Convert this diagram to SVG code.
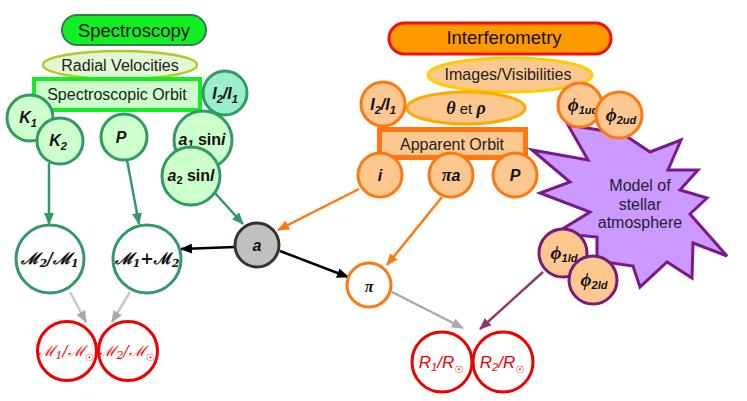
<svg xmlns="http://www.w3.org/2000/svg" width="747" height="401" viewBox="0 0 747 401">
<defs>
<style>
text{font-family:"Liberation Sans",Arial,sans-serif;text-anchor:middle;}
.gn{fill:#ccffcc;stroke:#339966;stroke-width:3;}
.wn{fill:#ffffff;stroke:#339966;stroke-width:3;}
.on{fill:#fcc890;stroke:#ff7711;stroke-width:3;}
.pn{fill:#fcc890;stroke:#7a1a7a;stroke-width:3;}
.rn{fill:#ffffff;stroke:#ee0000;stroke-width:3;}
.bi{font-weight:bold;font-style:italic;font-size:16px;fill:#111;}
.sy{font-family:"Liberation Serif","DejaVu Serif",serif;}
.sc{font-family:"DejaVu Serif",serif;font-style:italic;}
.lbl{font-size:16px;fill:#222;}
.sub{font-size:11px;}
.c{fill:none;stroke-width:2.5;}
</style>
<marker id="mg" markerUnits="userSpaceOnUse" markerWidth="12" markerHeight="10" refX="11" refY="5" orient="auto"><path d="M0,0 L12,5 L0,10 z" fill="#339966"/></marker>
<marker id="mk" markerUnits="userSpaceOnUse" markerWidth="12" markerHeight="10" refX="11" refY="5" orient="auto"><path d="M0,0 L12,5 L0,10 z" fill="#000"/></marker>
<marker id="mo" markerUnits="userSpaceOnUse" markerWidth="12" markerHeight="10" refX="11" refY="5" orient="auto"><path d="M0,0 L12,5 L0,10 z" fill="#ff7711"/></marker>
<marker id="ma" markerUnits="userSpaceOnUse" markerWidth="12" markerHeight="10" refX="11" refY="5" orient="auto"><path d="M0,0 L12,5 L0,10 z" fill="#aaaaaa"/></marker>
<marker id="mp" markerUnits="userSpaceOnUse" markerWidth="12" markerHeight="10" refX="11" refY="5" orient="auto"><path d="M0,0 L12,5 L0,10 z" fill="#8b3a6b"/></marker>
</defs>
<rect width="747" height="401" fill="#fff"/>

<g id="connectors">
<line class="c" x1="49" y1="163" x2="49" y2="224" stroke="#339966" marker-end="url(#mg)"/>
<line class="c" x1="127" y1="160" x2="139" y2="224" stroke="#339966" marker-end="url(#mg)"/>
<line class="c" x1="215" y1="193" x2="243" y2="224" stroke="#339966" marker-end="url(#mg)"/>
<line class="c" x1="235" y1="247" x2="181" y2="249" stroke="#000" marker-end="url(#mk)"/>
<line class="c" x1="280" y1="251" x2="348" y2="277" stroke="#000" marker-end="url(#mk)"/>
<line class="c" x1="359" y1="189" x2="278" y2="230" stroke="#ff7711" marker-end="url(#mo)"/>
<line class="c" x1="442" y1="197" x2="387" y2="265" stroke="#ff7711" marker-end="url(#mo)"/>
<line class="c" x1="392" y1="292" x2="463" y2="328" stroke="#aaaaaa" marker-end="url(#ma)"/>
<line class="c" x1="543" y1="272" x2="480" y2="329" stroke="#8b3a6b" marker-end="url(#mp)"/>
<line class="c" x1="70" y1="292" x2="86" y2="322" stroke="#c8c8c8" marker-end="url(#ma)"/>
<line class="c" x1="130" y1="292" x2="112" y2="322" stroke="#c8c8c8" marker-end="url(#ma)"/>
</g>

<g id="spectroscopy">
<rect x="62" y="15" width="144" height="30" rx="15" fill="#11ee22" stroke="#3a7a50" stroke-width="2"/>
<text x="134" y="37" font-size="18.5" fill="#111">Spectroscopy</text>
</g>
<g id="radial-velocities">
<ellipse cx="120" cy="65" rx="77" ry="14" fill="#e2f7d4" stroke="#b5c82a" stroke-width="2.5"/>
<text class="lbl" x="120" y="71">Radial Velocities</text>
</g>
<g id="spectroscopic-orbit">
<rect x="34" y="79" width="166" height="31" fill="#ccffcc" stroke="#11ee22" stroke-width="4"/>
<text class="lbl" x="117" y="100">Spectroscopic Orbit</text>
</g>
<g id="g-I2I1">
<circle cx="225" cy="93" r="22" fill="#99eecc" stroke="#339966" stroke-width="3"/>
<text class="bi" x="225" y="99" font-size="17">I<tspan class="sub" dy="4">2</tspan><tspan dy="-4">/I</tspan><tspan class="sub" dy="4">1</tspan></text>
</g>
<g id="K1">
<circle class="gn" cx="30" cy="118" r="23"/>
<text class="bi" x="28" y="123">K<tspan class="sub" dy="4">1</tspan></text>
</g>
<g id="K2">
<circle class="gn" cx="60" cy="141" r="23"/>
<text class="bi" x="58" y="146">K<tspan class="sub" dy="4">2</tspan></text>
</g>
<g id="g-P">
<circle class="gn" cx="124" cy="137" r="23"/>
<text class="bi" x="121" y="143">P</text>
</g>
<g id="a1sini">
<circle class="gn" cx="203" cy="140" r="29"/>
<text class="bi" x="202" y="145" font-size="14">a<tspan class="sub" dy="3">1</tspan><tspan dy="-3" font-style="normal"> sin</tspan>i</text>
</g>
<g id="a2sinl">
<circle class="gn" cx="191" cy="176" r="29"/>
<text class="bi" x="191" y="181" font-size="14">a<tspan class="sub" dy="3" font-style="normal">2</tspan><tspan dy="-3" font-style="normal"> sin</tspan>l</text>
</g>
<g id="M2M1">
<circle class="wn" cx="50" cy="259" r="34"/>
<text class="bi sc" x="50" y="264" font-size="14">ℳ<tspan class="sub" dy="3">2</tspan><tspan dy="-3">/ℳ</tspan><tspan class="sub" dy="3">1</tspan></text>
</g>
<g id="M1plusM2">
<circle class="wn" cx="147" cy="259" r="34"/>
<text class="bi sc" x="147" y="264" font-size="14">ℳ<tspan class="sub" dy="3">1</tspan><tspan dy="-3" font-style="normal">+ℳ</tspan><tspan class="sub" dy="3">2</tspan></text>
</g>
<g id="a-node">
<circle cx="257" cy="245" r="22" fill="#c0c0c0" stroke="#333" stroke-width="3"/>
<text class="bi" x="257" y="251">a</text>
</g>
<g id="pi-node">
<circle cx="369" cy="285" r="22" fill="#fff" stroke="#ff7711" stroke-width="3"/>
<text class="bi sy" x="369" y="292" font-size="22">π</text>
</g>
<g id="M1Msun">
<circle class="rn" cx="67" cy="351" r="29.5"/>
<text class="sc" x="66" y="356" font-size="15" fill="#ee0000">ℳ<tspan class="sub" dy="3">1</tspan><tspan dy="-3">/ℳ</tspan><tspan font-size="10" dy="5" font-style="normal">☉</tspan></text>
</g>
<g id="M2Msun">
<circle class="rn" cx="128" cy="351" r="29.5"/>
<text class="sc" x="127" y="356" font-size="15" fill="#ee0000">ℳ<tspan class="sub" dy="3">2</tspan><tspan dy="-3">/ℳ</tspan><tspan font-size="10" dy="5" font-style="normal">☉</tspan></text>
</g>
<g id="R1Rsun">
<circle class="rn" cx="442" cy="362" r="30"/>
<text x="441" y="368" font-size="17" font-style="italic" fill="#ee0000">R<tspan class="sub" dy="3">1</tspan><tspan dy="-3">/R</tspan><tspan font-size="10" dy="5" font-style="normal" font-family="DejaVu Sans">☉</tspan></text>
</g>
<g id="R2Rsun">
<circle class="rn" cx="503" cy="362" r="30"/>
<text x="502" y="368" font-size="17" font-style="italic" fill="#ee0000">R<tspan class="sub" dy="3">2</tspan><tspan dy="-3">/R</tspan><tspan font-size="10" dy="5" font-style="normal" font-family="DejaVu Sans">☉</tspan></text>
</g>

<g id="interferometry">
<rect x="389" y="23" width="222" height="31" rx="15.5" fill="#ff9900" stroke="#ee1111" stroke-width="3"/>
<text x="504" y="44" font-size="18.5" fill="#111">Interferometry</text>
</g>
<g id="images-visibilities">
<ellipse cx="510" cy="75" rx="82" ry="17" fill="#fcc890" stroke="#ffcc00" stroke-width="3"/>
<text class="lbl" x="508" y="80">Images/Visibilities</text>
</g>
<g id="theta-rho">
<ellipse cx="466" cy="108" rx="59" ry="16" fill="#fcc890" stroke="#ffaa00" stroke-width="3"/>
<text x="466" y="114" font-size="18" fill="#111"><tspan class="sy" font-weight="bold" font-style="italic">θ</tspan><tspan font-size="15"> et </tspan><tspan class="sy" font-weight="bold" font-style="italic">ρ</tspan></text>
</g>
<g id="o-I2I1">
<circle class="on" cx="383" cy="104" r="22"/>
<text class="bi" x="383" y="110" font-size="17">I<tspan class="sub" dy="4">2</tspan><tspan dy="-4">/I</tspan><tspan class="sub" dy="4">1</tspan></text>
</g>
<g id="apparent-orbit">
<rect x="379.5" y="129.5" width="146" height="28" fill="#fcc890" stroke="#ff7711" stroke-width="5"/>
<text class="lbl" x="452" y="150">Apparent Orbit</text>
</g>
<g id="o-i">
<circle class="on" cx="380" cy="175" r="22"/>
<text class="bi" x="380" y="181">i</text>
</g>
<g id="o-pia">
<circle class="on" cx="451" cy="175" r="22"/>
<text class="bi" x="451" y="181"><tspan class="sy" font-size="18">π</tspan>a</text>
</g>
<g id="o-P">
<circle class="on" cx="515" cy="175" r="22"/>
<text class="bi" x="515" y="181">P</text>
</g>
<g id="stellar-model">
<polygon points="568,125 612,132 626,136 650,152 681,140 668,170 698,170 680,190 707,198 690,214 727,256 693,243 692,278 667,262 640,287 633,266 605,262 597,258 597,237 556,233 590,212 540,193 570,182 532,150 588,160" fill="#cc99ff" stroke="#7a1a8a" stroke-width="3" stroke-linejoin="miter"/>
<text x="640" y="191" font-size="16" fill="#222233">Model of</text>
<text x="640" y="210" font-size="16" fill="#222233">stellar</text>
<text x="640" y="228" font-size="16" fill="#222233">atmosphere</text>
</g>
<g id="phi1ud">
<circle class="on" cx="580" cy="105" r="22"/>
<text class="bi" x="583" y="111"><tspan class="sy" font-size="19">ϕ</tspan><tspan class="sub" font-size="12" dy="3">1ud</tspan></text>
</g>
<g id="phi2ud">
<circle class="on" cx="619" cy="115" r="23"/>
<text class="bi" x="621" y="121"><tspan class="sy" font-size="19">ϕ</tspan><tspan class="sub" font-size="12" dy="3">2ud</tspan></text>
</g>
<g id="phi1ld">
<circle class="pn" cx="563" cy="253" r="24"/>
<text class="bi" x="564" y="259"><tspan class="sy" font-size="19">ϕ</tspan><tspan class="sub" font-size="12" dy="3">1ld</tspan></text>
</g>
<g id="phi2ld">
<circle class="pn" cx="593" cy="280" r="24"/>
<text class="bi" x="594" y="286"><tspan class="sy" font-size="19">ϕ</tspan><tspan class="sub" font-size="12" dy="3">2ld</tspan></text>
</g>
</svg>
